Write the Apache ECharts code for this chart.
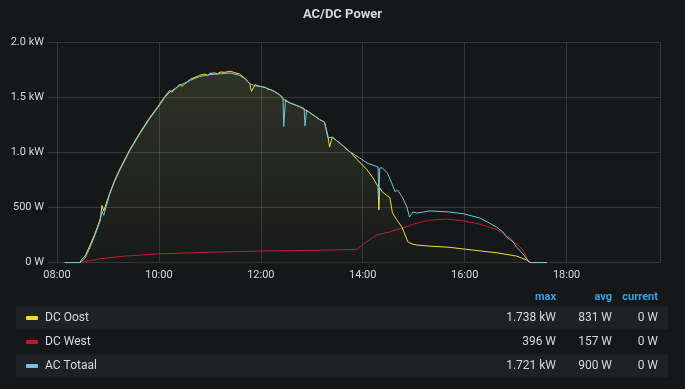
<!DOCTYPE html>
<html><head><meta charset="utf-8">
<script src="https://cdn.jsdelivr.net/npm/echarts@6/dist/echarts.min.js"></script>
<style>html,body{margin:0;padding:0;background:#161719;}#c{width:685px;height:389px;}</style>
</head><body><div id="c"></div>
<script>
// ---- data ----
const seriesNames = ["DC Oost", "DC West", "AC Totaal"];
const seriesColors = ["#F2DC3C", "#B81E2E", "#70C5DC"];
const xTickLabels = ["08:00", "10:00", "12:00", "14:00", "16:00", "18:00"];
const legendMax = ["1.738 kW", "396 W", "1.721 kW"];
const legendAvg = ["831 W", "157 W", "900 W"];
const legendCurrent = ["0 W", "0 W", "0 W"];

const dcOost = [
  ["08:09",0],["08:27",0],["08:29",30],["08:33",60],["08:39",160],["08:45",270],["08:51",400],["08:53",520],["08:55",470],
  ["09:02",630],["09:08",750],["09:14",850],["09:26",1030],["09:38",1185],["09:49",1315],["09:59",1420],["10:07",1510],["10:13",1565],
  ["10:15",1545],["10:25",1620],["10:27",1600],["10:37",1665],["10:48",1700],["10:54",1712],["10:57",1700],["11:00",1718],["11:06",1722],["11:09",1712],["11:12",1730],["11:18",1728],["11:24",1738],
  ["11:29",1725],["11:35",1712],["11:41",1675],["11:47",1625],["11:49",1555],["11:53",1615],["11:59",1600],["12:05",1590],["12:11",1570],["12:16",1555],["12:22",1525],
  ["12:27",1480],["12:34",1450],["12:40",1435],["12:46",1415],["12:58",1360],["13:03",1335],["13:09",1300],["13:15",1275],["13:19",1150],["13:21",1050],
  ["13:24",1140],["13:33",1085],["13:45",1005],["13:56",915],["14:05",843],["14:12",770],["14:18",690],["14:19",480],
  ["14:20",680],["14:23",643],["14:32",590],["14:35",452],["14:40",390],["14:46",325],["14:49",270],["14:53",190],
  ["14:58",170],["15:04",160],["15:19",150],["15:42",140],["15:58",125],["16:38",90],["17:01",60],["17:13",25],
  ["17:17",0],["17:37",0]
];
const dcWest = [
  ["08:09",0],["08:27",0],["08:50",35],["09:20",60],["10:00",80],["11:00",95],["12:00",106],["13:00",112],["13:53",120],
  ["13:59",160],["14:05",190],["14:16",250],["14:32",280],["14:47",315],["15:04",360],["15:19",385],["15:39",396],
  ["15:58",380],["16:18",350],["16:38",300],["16:53",225],["17:05",145],["17:11",90],["17:14",25],["17:17",0],["17:37",0]
];
const acTotaal = [
  ["08:09",0],["08:27",0],["08:29",10],["08:33",40],["08:39",140],["08:45",255],["08:51",385],["08:53",470],["08:55",430],
  ["09:02",620],["09:08",740],["09:14",840],["09:26",1020],["09:38",1175],["09:49",1305],["09:59",1410],["10:07",1500],["10:13",1550],
  ["10:25",1610],["10:37",1655],["10:48",1690],["11:00",1705],["11:12",1715],["11:24",1721],["11:35",1700],["11:41",1670],
  ["11:47",1625],["11:49",1610],["11:53",1605],["11:59",1600],["12:05",1592],["12:08",1575],["12:11",1572],["12:16",1552],["12:22",1525],["12:26",1500],["12:27",1235],
  ["12:29",1480],["12:34",1450],["12:40",1432],["12:46",1415],["12:51",1400],["12:52",1240],["12:54",1385],["12:58",1360],["13:03",1332],["13:09",1300],
  ["13:15",1275],["13:19",1130],["13:24",1140],["13:33",1085],["13:45",1005],["13:56",952],["14:05",905],["14:12",885],
  ["14:18",868],["14:19",600],["14:20",860],["14:23",860],["14:29",815],["14:34",725],["14:38",645],["14:41",660],
  ["14:47",590],["14:52",505],["14:55",415],["14:59",460],["15:04",450],["15:19",470],["15:42",460],["15:58",445],
  ["16:18",405],["16:29",360],["16:38",320],["16:45",280],["16:49",235],["16:57",190],["17:01",140],["17:07",95],
  ["17:13",35],["17:17",0],["17:37",0]
];

// ---- helpers ----
function toMin(s){const p=s.split(":");return (+p[0])*60+(+p[1]);}
function conv(arr){return arr.map(d=>[toMin(d[0]),d[1]]);}
function fmtTime(v){const h=Math.floor(v/60),m=Math.round(v%60);return (h<10?"0":"")+h+":"+(m<10?"0":"")+m;}
function fmtW(v){return v>=1000?(v/1000).toFixed(1)+" kW":v+" W";}

const xMin = toMin(xTickLabels[0]);
const xMax = 1190;
const font = "Roboto, 'Noto Sans', sans-serif";
const textColor = "#d8d9da";
const gridColor = "rgba(255,255,255,0.13)";

// ---- legend table graphics ----
const graphics = [];
const headers = [["max",556],["avg",612],["current",658]];
headers.forEach(h=>graphics.push({type:"text",x:h[1],y:297,style:{text:h[0],fill:"#33A2E5",font:"bold 11px "+font,textAlign:"right",textVerticalAlign:"middle"}}));
const rowY=[318,342,366];
seriesNames.forEach((n,i)=>{
  if(i!==1){graphics.push({type:"rect",shape:{x:16,y:rowY[i]-11.5,width:652,height:23},style:{fill:"#202124"},z:-1});}
  graphics.push({type:"rect",shape:{x:26,y:rowY[i]-2,width:12,height:4,r:1},style:{fill:seriesColors[i]}});
  graphics.push({type:"text",x:45,y:rowY[i],style:{text:n,fill:textColor,font:"12px "+font,textVerticalAlign:"middle"}});
  graphics.push({type:"text",x:556,y:rowY[i],style:{text:legendMax[i],fill:textColor,font:"12px "+font,textAlign:"right",textVerticalAlign:"middle"}});
  graphics.push({type:"text",x:612,y:rowY[i],style:{text:legendAvg[i],fill:textColor,font:"12px "+font,textAlign:"right",textVerticalAlign:"middle"}});
  graphics.push({type:"text",x:658,y:rowY[i],style:{text:legendCurrent[i],fill:textColor,font:"12px "+font,textAlign:"right",textVerticalAlign:"middle"}});
});

const chart = echarts.init(document.getElementById("c"), null, {renderer:"canvas"});
chart.setOption({
  backgroundColor:"#161719",
  animation:false,
  title:{text:"AC/DC Power",left:"center",top:3,textStyle:{color:textColor,fontFamily:font,fontSize:13,fontWeight:"bold"}},
  grid:{left:57,right:25,top:42.3,bottom:126.3,containLabel:false},
  xAxis:{type:"value",min:xMin,max:xMax,interval:120,
    axisLine:{show:false},axisTick:{show:false},
    splitLine:{show:true,lineStyle:{color:gridColor,width:1}},
    axisLabel:{color:textColor,fontFamily:font,fontSize:11,margin:7,showMaxLabel:false,formatter:v=>fmtTime(v)}},
  yAxis:{type:"value",min:0,max:2000,interval:500,
    axisLine:{show:false},axisTick:{show:true,length:9,lineStyle:{color:gridColor}},
    splitLine:{show:true,lineStyle:{color:gridColor,width:1}},
    axisLabel:{color:textColor,fontFamily:font,fontSize:11,margin:13,formatter:v=>fmtW(v)}},
  graphic:graphics,
  series:[
    {name:seriesNames[0],type:"line",data:conv(dcOost),showSymbol:false,symbol:"none",z:3,
      lineStyle:{color:seriesColors[0],width:1},
      areaStyle:{color:new echarts.graphic.LinearGradient(0,0,0,1,[{offset:0,color:"rgba(190,205,120,0.22)"},{offset:1,color:"rgba(190,205,120,0.02)"}])}},
    {name:seriesNames[1],type:"line",data:conv(dcWest),showSymbol:false,symbol:"none",z:2,
      lineStyle:{color:seriesColors[1],width:1}},
    {name:seriesNames[2],type:"line",data:conv(acTotaal),showSymbol:false,symbol:"none",z:4,
      lineStyle:{color:seriesColors[2],width:1}}
  ]
});
</script></body></html>
